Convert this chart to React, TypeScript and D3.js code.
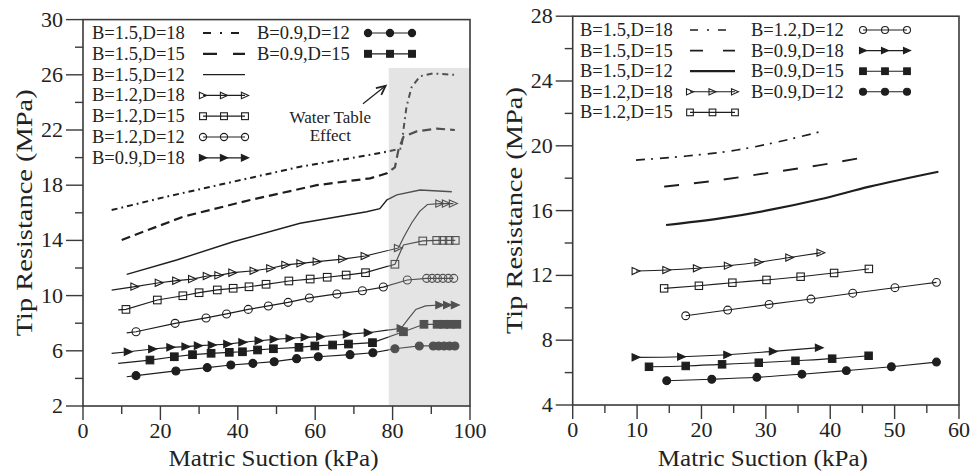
import React from 'react';
import * as d3 from 'd3';

type Pt = [number, number];

// ---------------- LEFT PANEL DATA (Matric Suction kPa, Tip Resistance MPa) ----------------
const L_X_TICKS = [0, 10, 20, 30, 40, 50, 60, 70, 80, 90, 100];
const L_Y_TICKS = [2, 4, 6, 8, 10, 12, 14, 16, 18, 20, 22, 24, 26, 28, 30];
const L_SHADE_X: Pt = [79, 100];
const L_SHADE_Y: Pt = [2, 26.5];

const L_B15_D18: Pt[] = [[7.4, 16.2], [21.6, 17.17], [38.8, 18.25], [56.1, 19.34], [74.2, 20.2], [78.5, 20.43], [82.3, 20.67], [82.8, 22.0], [83.6, 23.7], [84.9, 25.1], [87.1, 25.9], [90.5, 26.1], [96.1, 26.0]];
const L_B15_D15: Pt[] = [[10.0, 14.03], [25.9, 15.72], [43.2, 16.93], [60.4, 18.0], [74.2, 18.5], [78.5, 18.86], [80.6, 19.3], [81.5, 20.55], [82.8, 21.5], [86.2, 21.9], [91.4, 22.1], [96.1, 22.0]];
const L_B15_D12: Pt[] = [[11.3, 11.54], [24.2, 12.58], [38.8, 13.9], [56.1, 15.24], [73.3, 16.08], [76.7, 16.3], [78.5, 16.93], [81.1, 17.3], [87.1, 17.65], [95.3, 17.53]];

const L_B12_D18_M: Pt[] = [[13.4, 10.65], [19.7, 10.93], [24.2, 11.08], [28.3, 11.2], [32.1, 11.42], [35.1, 11.47], [38.7, 11.66], [44.2, 11.8], [48.5, 11.98], [52.4, 12.22], [56.3, 12.34], [60.5, 12.46], [67.1, 12.65], [72.9, 12.87], [81.5, 13.45], [92.2, 16.67], [93.9, 16.67], [95.7, 16.67]];
const L_B12_D18_L: Pt[] = [[7.4, 10.4], ...L_B12_D18_M.slice(0, 15), [83.0, 14.3], [85.0, 15.3], [87.0, 16.1], [89.0, 16.6], ...L_B12_D18_M.slice(15)];

const L_B12_D15_M: Pt[] = [[11.1, 9.0], [19.2, 9.68], [25.8, 9.99], [30.0, 10.21], [34.7, 10.41], [38.8, 10.53], [42.9, 10.64], [47.3, 10.82], [53.2, 11.06], [58.7, 11.2], [63.1, 11.33], [68.0, 11.49], [73.0, 11.66], [80.6, 12.27], [87.8, 13.96], [91.4, 14.0], [93.0, 14.0], [94.6, 14.0], [96.2, 14.0]];
const L_B12_D15_L: Pt[] = [[9.1, 8.96], ...L_B12_D15_M.slice(0, 14), [82.8, 13.67], ...L_B12_D15_M.slice(14)];

const L_B12_D12_M: Pt[] = [[13.7, 7.38], [23.8, 7.99], [31.8, 8.38], [37.1, 8.67], [42.7, 9.0], [47.9, 9.25], [53.0, 9.51], [58.5, 9.83], [65.6, 10.12], [72.2, 10.35], [77.6, 10.62], [83.8, 11.13], [88.8, 11.25], [90.2, 11.25], [91.6, 11.25], [93.0, 11.25], [94.4, 11.25], [95.8, 11.25]];
const L_B12_D12_L: Pt[] = [[11.3, 7.3], ...L_B12_D12_M];

const L_B09_D18_M: Pt[] = [[11.7, 5.93], [18.0, 6.13], [22.7, 6.25], [26.6, 6.3], [29.8, 6.37], [33.4, 6.42], [37.4, 6.49], [41.3, 6.62], [45.5, 6.73], [49.4, 6.83], [53.5, 6.91], [57.4, 6.98], [61.4, 7.02], [68.3, 7.2], [73.7, 7.31], [82.2, 7.63], [92.2, 9.32], [94.2, 9.32], [96.2, 9.32]];
const L_B09_D18_L: Pt[] = [[7.4, 5.82], ...L_B09_D18_M.slice(0, 16), [84.0, 8.3], [86.0, 9.0], [88.5, 9.25], ...L_B09_D18_M.slice(16)];

const L_B09_D15_M: Pt[] = [[17.3, 5.33], [23.6, 5.57], [28.3, 5.72], [33.1, 5.82], [37.8, 5.89], [41.2, 5.93], [45.1, 6.06], [49.2, 6.15], [55.8, 6.25], [59.9, 6.35], [64.5, 6.42], [68.6, 6.49], [74.8, 6.59], [82.8, 7.38], [88.1, 7.92], [91.5, 7.92], [93.2, 7.92], [94.9, 7.92], [96.6, 7.92]];
const L_B09_D15_L: Pt[] = [[9.1, 5.09], ...L_B09_D15_M];

const L_B09_D12_M: Pt[] = [[13.7, 4.2], [24.0, 4.54], [32.1, 4.78], [38.2, 4.97], [43.9, 5.09], [49.4, 5.21], [55.2, 5.43], [60.8, 5.57], [69.0, 5.72], [74.9, 5.86], [80.6, 6.15], [86.9, 6.35], [90.5, 6.35], [91.9, 6.35], [93.3, 6.35], [94.7, 6.35], [96.1, 6.35]];
const L_B09_D12_L: Pt[] = [[11.3, 4.12], ...L_B09_D12_M];

// annotation positions (data coordinates)
const L_NOTE_TEXT: Pt = [63.9, 22.5];
const L_ARROW: Pt[] = [[72.35, 23.9], [78.2, 25.2]];

// ---------------- RIGHT PANEL DATA ----------------
const R_X_TICKS = [0, 5, 10, 15, 20, 25, 30, 35, 40, 45, 50, 55, 60];
const R_Y_TICKS = [4, 6, 8, 10, 12, 14, 16, 18, 20, 22, 24, 26, 28];

const R_B15_D18: Pt[] = [[9.83, 19.12], [17.7, 19.37], [25.5, 19.74], [33.2, 20.36], [38.4, 20.87]];
const R_B15_D15: Pt[] = [[14.2, 17.48], [22.9, 17.89], [30.6, 18.34], [38.4, 18.81], [44.5, 19.23]];
const R_B15_D12: Pt[] = [[14.5, 15.11], [22.9, 15.52], [30.6, 16.04], [38.4, 16.7], [46.1, 17.48], [56.8, 18.4]];
const R_B12_D18: Pt[] = [[9.83, 12.27], [14.6, 12.33], [19.35, 12.44], [24.16, 12.6], [28.9, 12.81], [33.7, 13.1], [38.55, 13.4]];
const R_B12_D15: Pt[] = [[14.2, 11.2], [19.6, 11.36], [24.8, 11.55], [30.1, 11.72], [35.4, 11.92], [40.6, 12.15], [46.0, 12.4]];
const R_B12_D12: Pt[] = [[17.55, 9.51], [24.07, 9.86], [30.5, 10.21], [37.0, 10.54], [43.5, 10.9], [50.05, 11.24], [56.5, 11.57]];
const R_B09_D18: Pt[] = [[9.83, 6.94], [16.9, 6.98], [24.07, 7.1], [31.15, 7.31], [38.3, 7.54]];
const R_B09_D15: Pt[] = [[11.85, 6.36], [17.55, 6.41], [23.2, 6.51], [28.9, 6.61], [34.6, 6.73], [40.3, 6.86], [45.96, 7.04]];
const R_B09_D12: Pt[] = [[14.6, 5.5], [21.6, 5.59], [28.6, 5.71], [35.6, 5.9], [42.5, 6.12], [49.5, 6.36], [56.5, 6.65]];

// ---------------- LABELS ----------------
const LABELS: Record<string, string> = {
  B15D18: 'B=1.5,D=18', B15D15: 'B=1.5,D=15', B15D12: 'B=1.5,D=12',
  B12D18: 'B=1.2,D=18', B12D15: 'B=1.2,D=15', B12D12: 'B=1.2,D=12',
  B09D18: 'B=0.9,D=18', B09D15: 'B=0.9,D=15', B09D12: 'B=0.9,D=12',
};
const X_TITLE = 'Matric Suction (kPa)';
const Y_TITLE = 'Tip Resistance (MPa)';
const NOTE_LINES = ['Water Table', 'Effect'];

// ---------------- STYLES ----------------
type Shape = 'circle' | 'square' | 'tri' | undefined;
interface Sty { dash?: string; legDash?: string; width: number; shape?: Shape; filled?: boolean }
const MARK: Record<string, { shape: Shape; filled: boolean }> = {
  B12D18: { shape: 'tri', filled: false }, B12D15: { shape: 'square', filled: false }, B12D12: { shape: 'circle', filled: false },
  B09D18: { shape: 'tri', filled: true }, B09D15: { shape: 'square', filled: true }, B09D12: { shape: 'circle', filled: true },
};

const FONT = "'Liberation Serif', 'Times New Roman', serif";

interface SeriesDef { key: string; line: Pt[]; markers: Pt[] }

interface PanelCfg {
  xDomain: Pt; yDomain: Pt; xRange: Pt; yRange: Pt;
  xTicks: number[]; yTicks: number[];
  xMajor: (v: number) => boolean; yMajor: (v: number) => boolean;
  series: SeriesDef[];
  styles: Record<string, Sty>;
  legendCols: { keys: string[]; tx: number; sx0: number; sx1: number }[];
  legendY0: number; legendDy: number;
  curve: d3.CurveFactory;
  id: string;
  shade?: { xs: Pt; ys: Pt };
  mSize: number;
}

function Marker({ shape, filled, cx, cy, s, color }: { shape: Shape; filled?: boolean; cx: number; cy: number; s: number; color: string }) {
  const fill = filled ? color : 'none';
  const sw = 1.1;
  if (shape === 'circle') return <circle cx={cx} cy={cy} r={s} fill={fill} stroke={color} strokeWidth={sw} />;
  if (shape === 'square') return <rect x={cx - s * 0.95} y={cy - s * 0.95} width={s * 1.9} height={s * 1.9} fill={fill} stroke={color} strokeWidth={sw} />;
  if (shape === 'tri') return <polygon points={`${cx - s},${cy - s * 0.9} ${cx + s},${cy} ${cx - s},${cy + s * 0.9}`} fill={fill} stroke={color} strokeWidth={sw} />;
  return null;
}

function Panel({ cfg }: { cfg: PanelCfg }) {
  const x = d3.scaleLinear().domain(cfg.xDomain).range(cfg.xRange);
  const y = d3.scaleLinear().domain(cfg.yDomain).range(cfg.yRange);
  const [xl, xr] = cfg.xRange;
  const [yb, yt] = cfg.yRange;
  const axisColor = '#3a3a3a';
  const line = d3.line<Pt>().x(d => x(d[0])).y(d => y(d[1])).curve(cfg.curve);

  const drawSeries = (color: string) =>
    cfg.series.map(s => {
      const st = cfg.styles[s.key];
      return (
        <g key={s.key}>
          <path d={line(s.line) || ''} fill="none" stroke={color} strokeWidth={st.width} strokeDasharray={st.dash} />
          {st.shape && s.markers.map((p, i) => (
            <Marker key={i} shape={st.shape} filled={st.filled} cx={x(p[0])} cy={y(p[1])} s={cfg.mSize} color={color} />
          ))}
        </g>
      );
    });

  const shadeX0 = cfg.shade ? x(cfg.shade.xs[0]) : xr;

  return (
    <g fontFamily={FONT}>
      <defs>
        <clipPath id={`${cfg.id}-a`}><rect x={xl} y={yt - 5} width={shadeX0 - xl} height={yb - yt + 10} /></clipPath>
        <clipPath id={`${cfg.id}-b`}><rect x={shadeX0} y={yt - 5} width={xr - shadeX0 + 5} height={yb - yt + 10} /></clipPath>
      </defs>
      {cfg.shade && (
        <rect x={x(cfg.shade.xs[0])} y={y(cfg.shade.ys[1])} width={x(cfg.shade.xs[1]) - x(cfg.shade.xs[0])}
          height={y(cfg.shade.ys[0]) - y(cfg.shade.ys[1])} fill="#e4e4e4" />
      )}
      <g clipPath={`url(#${cfg.id}-a)`}>{drawSeries('#1e1e1e')}</g>
      {cfg.shade && <g clipPath={`url(#${cfg.id}-b)`}>{drawSeries('#505050')}</g>}

      {/* frame */}
      <rect x={xl} y={yt} width={xr - xl} height={yb - yt} fill="none" stroke={axisColor} strokeWidth={1.6} />
      {/* x ticks */}
      {cfg.xTicks.map(v => {
        const mj = cfg.xMajor(v);
        return (
          <g key={'x' + v}>
            <line x1={x(v)} x2={x(v)} y1={yb} y2={yb + (mj ? 14 : 8)} stroke={axisColor} strokeWidth={1.4} />
            {mj && <text x={x(v)} y={yb + 32} fontSize={22} textAnchor="middle" fill="#222">{v}</text>}
          </g>
        );
      })}
      {/* y ticks */}
      {cfg.yTicks.map(v => {
        const mj = cfg.yMajor(v);
        return (
          <g key={'y' + v}>
            <line x1={xl - (mj ? 17 : 8)} x2={xl} y1={y(v)} y2={y(v)} stroke={axisColor} strokeWidth={1.4} />
            {mj && <text x={xl - 20} y={y(v) + 7} fontSize={22} textAnchor="end" fill="#222">{v}</text>}
          </g>
        );
      })}
      {/* titles */}
      <text x={(xl + xr) / 2 - 3} y={466} fontSize={23} textAnchor="middle" fill="#222"
        textLength={210} lengthAdjust="spacingAndGlyphs">{X_TITLE}</text>
      <text transform={`translate(${xl - 51},${(yt + yb) / 2}) rotate(-90)`} fontSize={23} textAnchor="middle" fill="#222"
        textLength={247} lengthAdjust="spacingAndGlyphs">{Y_TITLE}</text>

      {/* legend */}
      {cfg.legendCols.map((col, ci) => (
        <g key={'lc' + ci}>
          {col.keys.map((k, ri) => {
            const cy = cfg.legendY0 + ri * cfg.legendDy;
            const st = cfg.styles[k];
            const mid = (col.sx0 + col.sx1) / 2;
            return (
              <g key={k}>
                <text x={col.tx} y={cy + 6} fontSize={18.5} fill="#222">{LABELS[k]}</text>
                <line x1={col.sx0} x2={col.sx1} y1={cy} y2={cy} stroke="#1e1e1e" strokeWidth={st.width} strokeDasharray={st.legDash} />
                {st.shape && [col.sx0, mid, col.sx1].map((px, i) => (
                  <Marker key={i} shape={st.shape} filled={st.filled} cx={px} cy={cy} s={cfg.mSize - 0.4} color="#1e1e1e" />
                ))}
              </g>
            );
          })}
        </g>
      ))}
    </g>
  );
}

export default function App() {
  const leftStyles: Record<string, Sty> = {
    B15D18: { dash: '6,4,1.8,4', legDash: '8,9,2,9', width: 2 },
    B15D15: { dash: '9,5', legDash: '14,16', width: 2.2 },
    B15D12: { width: 1.4, legDash: undefined },
    ...Object.fromEntries(Object.entries(MARK).map(([k, m]) => [k, { width: 1.2, shape: m.shape, filled: m.filled }])),
  };
  const rightStyles: Record<string, Sty> = {
    B15D18: { dash: '9,6,2,7', legDash: '8,9,2,9', width: 1.7 },
    B15D15: { dash: '15,15', legDash: '13,20', width: 1.9 },
    B15D12: { width: 2.2 },
    ...Object.fromEntries(Object.entries(MARK).map(([k, m]) => [k, { width: 1.1, shape: m.shape, filled: m.filled }])),
  };

  const leftCfg: PanelCfg = {
    id: 'L',
    xDomain: [0, 100], yDomain: [2, 30], xRange: [83, 470], yRange: [406, 19.6],
    xTicks: L_X_TICKS, yTicks: L_Y_TICKS,
    xMajor: v => v % 20 === 0, yMajor: v => (v - 2) % 4 === 0,
    series: [
      { key: 'B15D18', line: L_B15_D18, markers: [] },
      { key: 'B15D15', line: L_B15_D15, markers: [] },
      { key: 'B15D12', line: L_B15_D12, markers: [] },
      { key: 'B12D18', line: L_B12_D18_L, markers: L_B12_D18_M },
      { key: 'B12D15', line: L_B12_D15_L, markers: L_B12_D15_M },
      { key: 'B12D12', line: L_B12_D12_L, markers: L_B12_D12_M },
      { key: 'B09D18', line: L_B09_D18_L, markers: L_B09_D18_M },
      { key: 'B09D15', line: L_B09_D15_L, markers: L_B09_D15_M },
      { key: 'B09D12', line: L_B09_D12_L, markers: L_B09_D12_M },
    ],
    styles: leftStyles,
    legendCols: [
      { keys: ['B15D18', 'B15D15', 'B15D12', 'B12D18', 'B12D15', 'B12D12', 'B09D18'], tx: 92, sx0: 203, sx1: 245 },
      { keys: ['B09D12', 'B09D15'], tx: 257, sx0: 368, sx1: 412 },
    ],
    legendY0: 33, legendDy: 20.8,
    curve: d3.curveLinear,
    shade: { xs: L_SHADE_X, ys: L_SHADE_Y },
    mSize: 4,
  };

  const rightCfg: PanelCfg = {
    id: 'R',
    xDomain: [0, 60], yDomain: [4, 28], xRange: [572.7, 959], yRange: [405, 16.2],
    xTicks: R_X_TICKS, yTicks: R_Y_TICKS,
    xMajor: v => v % 10 === 0, yMajor: v => (v - 4) % 4 === 0,
    series: [
      { key: 'B15D18', line: R_B15_D18, markers: [] },
      { key: 'B15D15', line: R_B15_D15, markers: [] },
      { key: 'B15D12', line: R_B15_D12, markers: [] },
      { key: 'B12D18', line: R_B12_D18, markers: R_B12_D18 },
      { key: 'B12D15', line: R_B12_D15, markers: R_B12_D15 },
      { key: 'B12D12', line: R_B12_D12, markers: R_B12_D12 },
      { key: 'B09D18', line: R_B09_D18, markers: R_B09_D18 },
      { key: 'B09D15', line: R_B09_D15, markers: R_B09_D15 },
      { key: 'B09D12', line: R_B09_D12, markers: R_B09_D12 },
    ],
    styles: rightStyles,
    legendCols: [
      { keys: ['B15D18', 'B15D15', 'B15D12', 'B12D18', 'B12D15'], tx: 580, sx0: 690, sx1: 735 },
      { keys: ['B12D12', 'B09D18', 'B09D15', 'B09D12'], tx: 751, sx0: 863, sx1: 907 },
    ],
    legendY0: 30, legendDy: 20.6,
    curve: d3.curveMonotoneX,
    mSize: 3.9,
  };

  // annotation on left panel
  const lx = d3.scaleLinear().domain(leftCfg.xDomain).range(leftCfg.xRange);
  const ly = d3.scaleLinear().domain(leftCfg.yDomain).range(leftCfg.yRange);
  const a0 = [lx(L_ARROW[0][0]), ly(L_ARROW[0][1])];
  const a1 = [lx(L_ARROW[1][0]), ly(L_ARROW[1][1])];
  const ang = Math.atan2(a1[1] - a0[1], a1[0] - a0[0]);
  const hl = 10, ha = 0.45;
  const h1 = [a1[0] - hl * Math.cos(ang - ha), a1[1] - hl * Math.sin(ang - ha)];
  const h2 = [a1[0] - hl * Math.cos(ang + ha), a1[1] - hl * Math.sin(ang + ha)];

  return (
    <svg width={973} height={473} style={{ position: 'absolute', left: 0, top: 0, background: '#fff' }}>
      <rect width={973} height={473} fill="#fff" />
      <Panel cfg={leftCfg} />
      <Panel cfg={rightCfg} />
      <g fontFamily={FONT} fill="#222">
        <text x={lx(L_NOTE_TEXT[0])} y={ly(L_NOTE_TEXT[1])} fontSize={17} textAnchor="middle">{NOTE_LINES[0]}</text>
        <text x={lx(L_NOTE_TEXT[0])} y={ly(L_NOTE_TEXT[1]) + 18} fontSize={17} textAnchor="middle">{NOTE_LINES[1]}</text>
        <line x1={a0[0]} y1={a0[1]} x2={a1[0]} y2={a1[1]} stroke="#222" strokeWidth={1.3} />
        <polyline points={`${h1[0]},${h1[1]} ${a1[0]},${a1[1]} ${h2[0]},${h2[1]}`} fill="none" stroke="#222" strokeWidth={1.8} />
      </g>
    </svg>
  );
}
